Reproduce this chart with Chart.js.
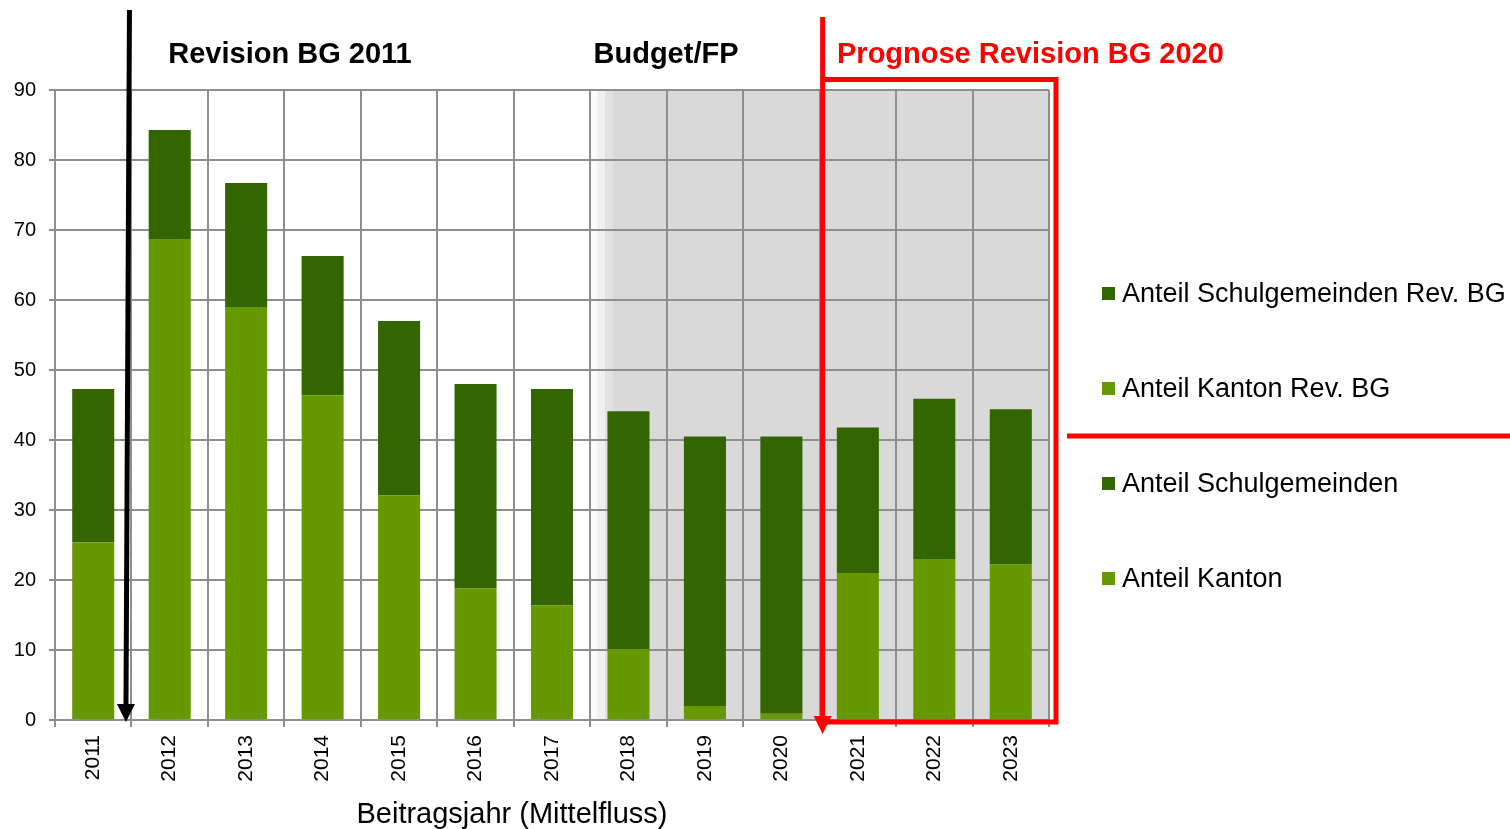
<!DOCTYPE html>
<html lang="de">
<head>
<meta charset="UTF-8">
<title>Beitragsjahr (Mittelfluss)</title>
<script src="https://cdn.jsdelivr.net/npm/chart.js"></script>
<style>
  html, body { margin: 0; padding: 0; background: #ffffff; }
  #wrap { width: 1510px; height: 829px; }
</style>
</head>
<body>
<div id="wrap"><canvas id="chart" width="1510" height="829"></canvas></div>
<script>
// Data (Mio.)
const years = ['2011', '2012', '2013', '2014', '2015', '2016', '2017', '2018', '2019', '2020', '2021', '2022', '2023'];
const kanton = [25.4, 68.7, 59.0, 46.4, 32.1, 18.8, 16.4, 10.1, 2.0, 0.9, null, null, null];
const schulgemeinden = [21.9, 15.6, 17.7, 19.9, 24.9, 29.2, 30.9, 34.0, 38.5, 39.6, null, null, null];
const kantonRev = [null, null, null, null, null, null, null, null, null, null, 21.0, 23.0, 22.2];
const schulgemeindenRev = [null, null, null, null, null, null, null, null, null, null, 20.8, 22.9, 22.2];
const yTicks = { min: 0, max: 90, step: 10 };

const DARK = '#336600';
const LIGHT = '#669900';
const GRID = '#8e8e8e';
const RED = '#ff0000';
const FONT = '"Liberation Sans", Arial, sans-serif';

// background, annotations and legend
const decoPlugin = {
    id: 'deco',
    beforeDraw(chart) {
        const { ctx, chartArea: a, scales: { x } } = chart;
        const half = (x.getPixelForValue(1) - x.getPixelForValue(0)) / 2;
        const start = x.getPixelForValue(7) - half;
        ctx.save();
        ctx.fillStyle = '#d9d9d9';
        ctx.fillRect(start, a.top, a.right - start, a.bottom - a.top);
        // soft left edge of the shaded block
        const strips = ['#fbfbfb', '#f0f0f0', '#e2e2e2'];
        strips.forEach((c, i) => {
            ctx.fillStyle = c;
            ctx.fillRect(start + i * 7.5, a.top, 7.5, a.bottom - a.top);
        });
        ctx.restore();
    },
    afterDraw(chart) {
        const { ctx, chartArea: a, scales: { x, y } } = chart;
        const half = (x.getPixelForValue(1) - x.getPixelForValue(0)) / 2;
        ctx.save();

        // section titles
        ctx.font = 'bold 29px ' + FONT;
        ctx.textBaseline = 'alphabetic';
        ctx.textAlign = 'center';
        ctx.fillStyle = '#000000';
        ctx.fillText('Revision BG 2011', 290, 63);
        ctx.fillText('Budget/FP', 666, 63);
        ctx.textAlign = 'left';
        ctx.fillStyle = RED;
        ctx.fillText('Prognose Revision BG 2020', 837, 63);

        // black arrow at start of revision 2011
        const bx = x.getPixelForValue(0) + half;
        ctx.strokeStyle = '#000000';
        ctx.fillStyle = '#000000';
        ctx.lineWidth = 5;
        ctx.beginPath();
        ctx.moveTo(bx - 2, 10);
        ctx.lineTo(bx - 5.5, 706);
        ctx.stroke();
        ctx.beginPath();
        ctx.moveTo(bx - 14.5, 704);
        ctx.lineTo(bx + 3.5, 704);
        ctx.lineTo(bx - 5.5, 722);
        ctx.closePath();
        ctx.fill();

        // red frame around the prognosis
        const rx = x.getPixelForValue(9) + half + 3;
        const rTop = y.getPixelForValue(yTicks.max) - 10.5;
        const rRight = a.right + 7;
        const rBottom = a.bottom + 2;
        ctx.strokeStyle = RED;
        ctx.fillStyle = RED;
        ctx.lineWidth = 5;
        ctx.beginPath();
        ctx.moveTo(rx, 17);
        ctx.lineTo(rx, 718);
        ctx.stroke();
        ctx.beginPath();
        ctx.moveTo(rx, rTop);
        ctx.lineTo(rRight, rTop);
        ctx.lineTo(rRight, rBottom);
        ctx.lineTo(rx, rBottom);
        ctx.stroke();
        ctx.beginPath();
        ctx.moveTo(rx - 9, 716);
        ctx.lineTo(rx + 9, 716);
        ctx.lineTo(rx, 734);
        ctx.closePath();
        ctx.fill();

        // legend
        const order = [3, 2, 1, 0];
        ctx.font = '27px ' + FONT;
        ctx.textAlign = 'left';
        order.forEach((di, i) => {
            const ds = chart.data.datasets[di];
            const cy = 293.5 + i * 95;
            ctx.fillStyle = ds.backgroundColor;
            ctx.fillRect(1102, cy - 6.5, 13, 13);
            ctx.fillStyle = '#000000';
            ctx.fillText(ds.label, 1122, cy + 8);
        });
        // separator between revision and current series
        ctx.strokeStyle = RED;
        ctx.lineWidth = 5;
        ctx.beginPath();
        ctx.moveTo(1067, 436);
        ctx.lineTo(1510, 436);
        ctx.stroke();

        // axis title
        ctx.fillStyle = '#000000';
        ctx.font = '29px ' + FONT;
        ctx.textAlign = 'center';
        ctx.fillText('Beitragsjahr (Mittelfluss)', 512, 823);
        ctx.restore();
    }
};

const barStyle = { barPercentage: 0.55, categoryPercentage: 1.0, stack: 's' };

new Chart(document.getElementById('chart'), {
    type: 'bar',
    data: {
        labels: years,
        datasets: [
            { label: 'Anteil Kanton', data: kanton, backgroundColor: LIGHT, ...barStyle },
            { label: 'Anteil Schulgemeinden', data: schulgemeinden, backgroundColor: DARK, ...barStyle },
            { label: 'Anteil Kanton Rev. BG', data: kantonRev, backgroundColor: LIGHT, ...barStyle },
            { label: 'Anteil Schulgemeinden Rev. BG', data: schulgemeindenRev, backgroundColor: DARK, ...barStyle }
        ]
    },
    options: {
        responsive: false,
        animation: false,
        devicePixelRatio: 1,
        layout: { padding: { top: 90, right: 461, left: 0, bottom: 0 } },
        plugins: {
            legend: { display: false },
            tooltip: { enabled: false }
        },
        scales: {
            x: {
                stacked: true,
                grid: { color: GRID, lineWidth: 2, tickLength: 7, offset: true },
                border: { color: GRID, width: 2 },
                ticks: {
                    color: '#000000',
                    font: { family: FONT, size: 21 },
                    minRotation: 90,
                    maxRotation: 90,
                    padding: 8,
                    autoSkip: false
                },
                afterFit(scale) { scale.height = 109; }
            },
            y: {
                stacked: true,
                min: yTicks.min,
                max: yTicks.max,
                grid: { color: GRID, lineWidth: 2, tickLength: 6 },
                border: { color: GRID, width: 2 },
                ticks: {
                    stepSize: yTicks.step,
                    color: '#000000',
                    font: { family: FONT, size: 20 },
                    padding: 13
                },
                afterFit(scale) { scale.width = 55; }
            }
        }
    },
    plugins: [decoPlugin]
});
</script>
</body>
</html>
